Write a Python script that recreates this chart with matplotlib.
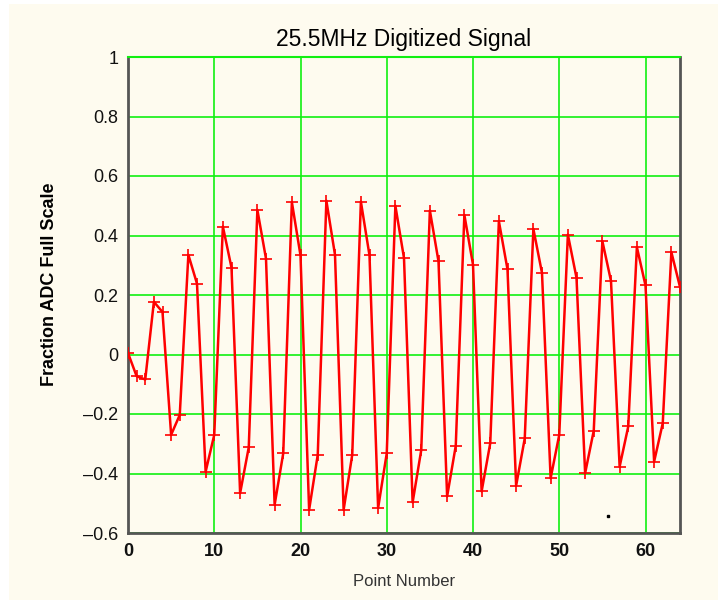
import matplotlib
matplotlib.use("Agg")
from matplotlib import pyplot as plt
from matplotlib.patches import Rectangle

# ADC samples
point_number = list(range(65))
fraction_adc = [
    0.005, -0.073, -0.084, 0.177, 0.143, -0.270, -0.203, 0.335, 0.238, -0.394,
    -0.270, 0.430, 0.292, -0.466, -0.312, 0.486, 0.322, -0.505, -0.332, 0.512,
    0.333, -0.522, -0.337, 0.517, 0.335, -0.522, -0.337, 0.514, 0.333, -0.516,
    -0.332, 0.500, 0.324, -0.497, -0.321, 0.484, 0.313, -0.477, -0.307, 0.469,
    0.302, -0.460, -0.298, 0.448, 0.286, -0.441, -0.282, 0.422, 0.274, -0.416,
    -0.270, 0.403, 0.258, -0.399, -0.256, 0.381, 0.247, -0.377, -0.242, 0.361,
    0.232, -0.360, -0.231, 0.344, 0.227,
]
# stray dot in the lower right of the plot
stray_x = [55.7]
stray_y = [-0.543]

x_ticks = [0, 10, 20, 30, 40, 50, 60]
y_ticks = [-0.6, -0.4, -0.2, 0, 0.2, 0.4, 0.6, 0.8, 1]
y_tick_labels = ["\u20130.6", "\u20130.4", "\u20130.2", "0", "0.2", "0.4", "0.6", "0.8", "1"]

cream = "#FEFBEF"
grid_green = "#11F011"

plt.rcParams["font.family"] = ["Liberation Sans", "DejaVu Sans"]

fig = plt.figure(figsize=(7.18, 6), dpi=100, facecolor="white")
fig.patches.append(Rectangle((9 / 718, 0), 1, 1 - 4 / 600, transform=fig.transFigure,
                             facecolor=cream, edgecolor="none", zorder=-10))
ax = fig.add_axes([128 / 718, 1 - 533 / 600, (680 - 128) / 718, (533 - 57) / 600])
ax.set_facecolor(cream)

ax.plot(point_number, fraction_adc, color="#FF0000", linewidth=1.8,
        marker="+", markersize=9, markeredgewidth=1.2, zorder=3)
ax.plot(stray_x, stray_y, "s", color="black", markersize=1.5, zorder=3)

ax.set_xlim(0, 64)
ax.set_ylim(-0.6, 1)
ax.set_xticks(x_ticks)
ax.set_yticks(y_ticks)
ax.set_yticklabels(y_tick_labels)
ax.tick_params(length=0, pad=7, labelsize=13, colors="#111111")
for lbl in ax.get_xticklabels():
    lbl.set_fontweight("bold")

ax.grid(True, color=grid_green, linewidth=1.2, zorder=1)
ax.set_axisbelow(True)

for side in ["left", "bottom", "right"]:
    ax.spines[side].set_color("#555555")
    ax.spines[side].set_linewidth(2)
ax.spines["top"].set_color(grid_green)
ax.spines["top"].set_linewidth(1.5)

ax.set_title("25.5MHz Digitized Signal", fontsize=16.5, pad=8)
ax.set_xlabel("Point Number", fontsize=12, color="#333333", labelpad=10)
ax.set_ylabel("Fraction ADC Full Scale", fontsize=13, fontweight="bold")
ax.yaxis.set_label_coords(-0.127, 0.523)

fig.savefig("out.png", dpi=100, facecolor=fig.get_facecolor())
